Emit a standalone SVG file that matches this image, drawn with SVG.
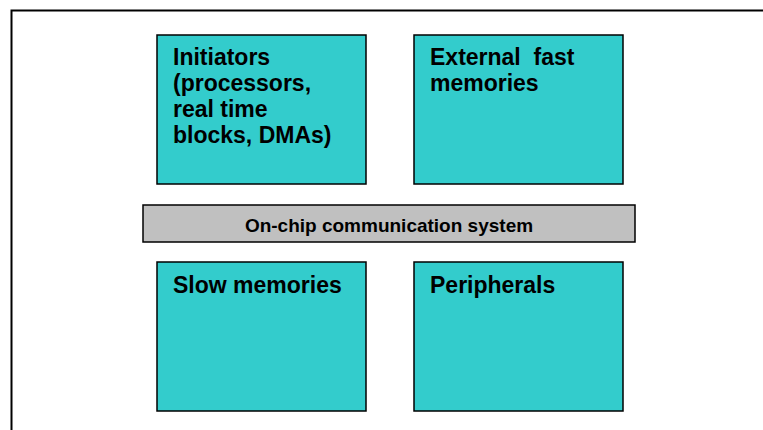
<svg xmlns="http://www.w3.org/2000/svg" width="763" height="430" viewBox="0 0 763 430">
  <style>
    .blk { fill: #33CCCC; stroke: #000; stroke-width: 1.5; }
    .bus { fill: #C0C0C0; stroke: #000; stroke-width: 1.5; }
    .ttl { font-family: "Liberation Sans", Arial, sans-serif; font-weight: bold; font-size: 23px; fill: #000; }
    .bl { font-family: "Liberation Sans", Arial, sans-serif; font-weight: bold; font-size: 19px; fill: #000; text-anchor: middle; }
  </style>
  <rect width="763" height="430" fill="#fff"/>
  <!-- outer frame (open on right and bottom) -->
  <path d="M11.5 432 V10.5 H765" fill="none" stroke="#000" stroke-width="2"/>

  <g id="initiators">
    <rect class="blk" x="157" y="35" width="209" height="149"/>
    <text class="ttl" x="173" y="65">Initiators</text>
    <text class="ttl" x="173" y="91">(processors,</text>
    <text class="ttl" x="173" y="117">real time</text>
    <text class="ttl" x="173" y="143">blocks, DMAs)</text>
  </g>

  <g id="fast-memories">
    <rect class="blk" x="414" y="35" width="209" height="149"/>
    <text class="ttl" x="430" y="65" xml:space="preserve">External  fast</text>
    <text class="ttl" x="430" y="91">memories</text>
  </g>

  <g id="bus">
    <rect class="bus" x="143" y="205" width="492" height="37"/>
    <text class="bl" x="389" y="232">On-chip communication system</text>
  </g>

  <g id="slow-memories">
    <rect class="blk" x="157" y="262" width="209" height="149"/>
    <text class="ttl" x="173" y="293">Slow memories</text>
  </g>

  <g id="peripherals">
    <rect class="blk" x="414" y="262" width="209" height="149"/>
    <text class="ttl" x="430" y="293">Peripherals</text>
  </g>

  <g id="connectors"></g>
</svg>
